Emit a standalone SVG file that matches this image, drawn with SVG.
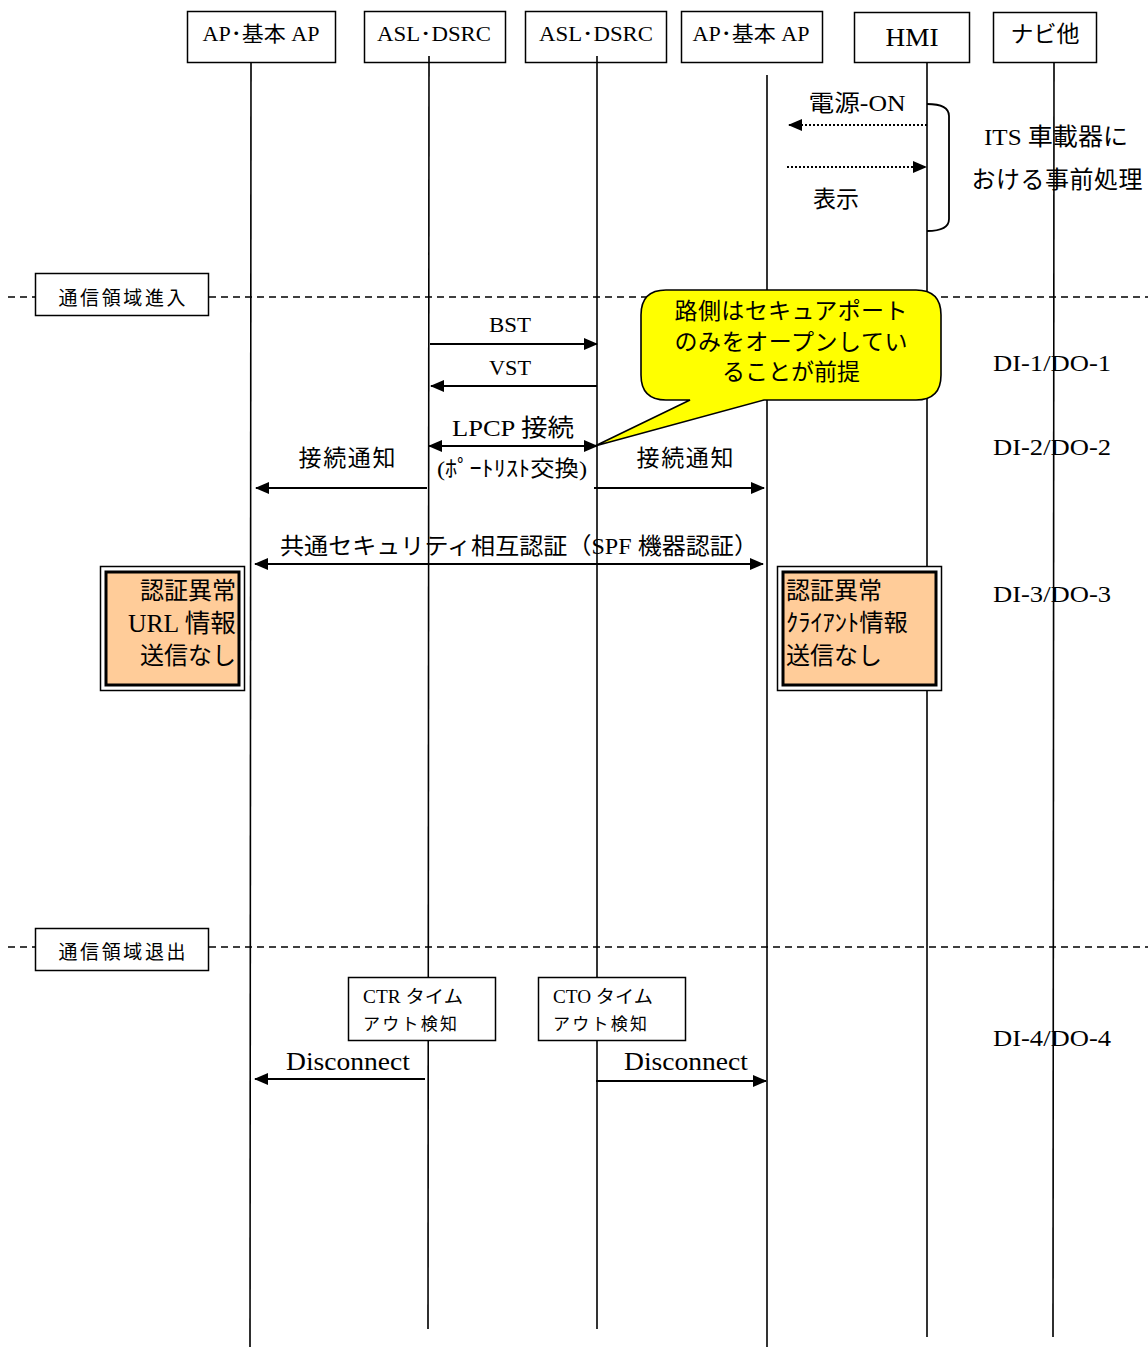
<svg xmlns="http://www.w3.org/2000/svg" width="1148" height="1347" viewBox="0 0 1148 1347">
<style>
text{font-family:"Liberation Serif","Noto Sans CJK JP",serif;fill:#000;dominant-baseline:central}
.hd{fill:#fff;stroke:#000;stroke-width:1.5}
.life{stroke:#000;stroke-width:1.6;fill:none}
.msg{stroke:#000;stroke-width:2.2;fill:none}
.dot{stroke:#000;stroke-width:2;stroke-dasharray:2,2;fill:none}
.sep{stroke:#000;stroke-width:1.4;stroke-dasharray:7,5;fill:none}
.box{fill:#fff;stroke:#000;stroke-width:1.5}
.mid{text-anchor:middle}
</style>
<defs>
<marker id="ah" viewBox="0 0 14 12" refX="13" refY="6" markerWidth="14" markerHeight="12" markerUnits="userSpaceOnUse" orient="auto-start-reverse">
<path d="M0,0 L14,6 L0,12 z" fill="#000"/>
</marker>
</defs>

<!-- separators -->
<g id="separators">
<line class="sep" x1="8" y1="297" x2="35" y2="297"/>
<line class="sep" x1="209" y1="297" x2="1148" y2="297"/>
<line class="sep" x1="8" y1="947" x2="35" y2="947"/>
<line class="sep" x1="209" y1="947" x2="1148" y2="947"/>
</g>

<!-- participants -->
<g id="p1">
<rect class="hd" x="187.5" y="11.5" width="148" height="51"/>
<text class="mid" x="261" y="34" font-size="21" textLength="117" lengthAdjust="spacingAndGlyphs">AP･基本 AP</text>
<line class="life" x1="251" y1="62" x2="250" y2="1347"/>
</g>
<g id="p2">
<rect class="hd" x="364.5" y="11.5" width="141" height="51"/>
<text class="mid" x="434" y="34" font-size="20" textLength="114" lengthAdjust="spacingAndGlyphs">ASL･DSRC</text>
<line class="life" x1="429" y1="56" x2="428" y2="1329"/>
</g>
<g id="p3">
<rect class="hd" x="525.5" y="11.5" width="141" height="51"/>
<text class="mid" x="596" y="34" font-size="20" textLength="114" lengthAdjust="spacingAndGlyphs">ASL･DSRC</text>
<line class="life" x1="597" y1="56" x2="597" y2="1329"/>
</g>
<g id="p4">
<rect class="hd" x="681.5" y="11.5" width="141" height="51"/>
<text class="mid" x="751" y="34" font-size="21" textLength="117" lengthAdjust="spacingAndGlyphs">AP･基本 AP</text>
<line class="life" x1="767" y1="75" x2="767" y2="1347"/>
</g>
<g id="p5">
<rect class="hd" x="854.5" y="12.5" width="115" height="50"/>
<text class="mid" x="912" y="37" font-size="25" textLength="53" lengthAdjust="spacingAndGlyphs">HMI</text>
<line class="life" x1="927" y1="62" x2="927" y2="1337"/>
</g>
<g id="p6">
<rect class="hd" x="993.5" y="12.5" width="103" height="50"/>
<text class="mid" x="1045" y="34" font-size="23">ナビ他</text>
<line class="life" x1="1054" y1="62" x2="1053" y2="1337"/>
</g>

<!-- connectors -->
<g id="connectors">
<line class="dot" x1="927" y1="125" x2="789" y2="125" marker-end="url(#ah)"/>
<line class="dot" x1="787" y1="167" x2="926" y2="167" marker-end="url(#ah)"/>
<line class="msg" x1="430" y1="344" x2="597" y2="344" marker-end="url(#ah)"/>
<line class="msg" x1="597" y1="386" x2="431" y2="386" marker-end="url(#ah)"/>
<line class="msg" x1="429" y1="446" x2="597" y2="446" marker-start="url(#ah)" marker-end="url(#ah)"/>
<line class="msg" x1="427" y1="488" x2="256" y2="488" marker-end="url(#ah)"/>
<line class="msg" x1="594" y1="488" x2="764" y2="488" marker-end="url(#ah)"/>
<line class="msg" x1="255" y1="564" x2="763" y2="564" marker-start="url(#ah)" marker-end="url(#ah)"/>
<line class="msg" x1="425" y1="1079" x2="255" y2="1079" marker-end="url(#ah)"/>
<line class="msg" x1="596" y1="1081" x2="766" y2="1081" marker-end="url(#ah)"/>
</g>

<!-- message labels -->
<g id="labels">
<text x="857" y="103" class="mid" font-size="23" textLength="97" lengthAdjust="spacingAndGlyphs">電源-ON</text>
<text x="836" y="199" class="mid" font-size="23">表示</text>
<text x="510" y="325" class="mid" font-size="21" textLength="42" lengthAdjust="spacingAndGlyphs">BST</text>
<text x="510" y="368" class="mid" font-size="21" textLength="42" lengthAdjust="spacingAndGlyphs">VST</text>
<text x="513" y="428" class="mid" font-size="24" textLength="122" lengthAdjust="spacingAndGlyphs">LPCP 接続</text>
<text x="512" y="468" class="mid" font-size="22" textLength="150" lengthAdjust="spacingAndGlyphs">(ﾎﾟｰﾄﾘｽﾄ交換)</text>
<text x="347" y="458" class="mid" font-size="23" textLength="97" lengthAdjust="spacing">接続通知</text>
<text x="685" y="458" class="mid" font-size="23" textLength="97" lengthAdjust="spacing">接続通知</text>
<text x="280" y="546" font-size="23" textLength="478" lengthAdjust="spacingAndGlyphs">共通セキュリティ相互認証（SPF 機器認証）</text>
<text x="348" y="1061" class="mid" font-size="25" textLength="124" lengthAdjust="spacingAndGlyphs">Disconnect</text>
<text x="686" y="1061" class="mid" font-size="25" textLength="124" lengthAdjust="spacingAndGlyphs">Disconnect</text>
</g>

<!-- HMI preprocessing brace -->
<g id="preprocess">
<path d="M927,104 Q949,104 949,116 L949,219 Q949,231 927,231" fill="none" stroke="#000" stroke-width="1.8"/>
<text x="1056" y="137" class="mid" font-size="24" textLength="144" lengthAdjust="spacingAndGlyphs">ITS 車載器に</text>
<text x="1057" y="180" class="mid" font-size="24" textLength="171" lengthAdjust="spacing">おける事前処理</text>
</g>

<!-- section labels -->
<g id="enter">
<rect class="box" x="35.5" y="273.5" width="173" height="42"/>
<text x="122" y="298" class="mid" font-size="19" textLength="127" lengthAdjust="spacing">通信領域進入</text>
</g>
<g id="exit">
<rect class="box" x="35.5" y="928.5" width="173" height="42"/>
<text x="122" y="952" class="mid" font-size="19" textLength="127" lengthAdjust="spacing">通信領域退出</text>
</g>

<!-- callout -->
<g id="callout">
<path d="M666,290 L916,290 Q941,290 941,315 L941,375 Q941,400 916,400 L764,400 L595,446 L690,400 L666,400 Q641,400 641,375 L641,315 Q641,290 666,290 z" fill="#FFFF00" stroke="#000" stroke-width="1.6"/>
<text x="791" y="311" class="mid" font-size="23" textLength="233" lengthAdjust="spacing">路側はセキュアポート</text>
<text x="791" y="342" class="mid" font-size="23" textLength="233" lengthAdjust="spacing">のみをオープンしてい</text>
<text x="791" y="372" class="mid" font-size="23" textLength="138" lengthAdjust="spacing">ることが前提</text>
</g>

<!-- DI/DO labels -->
<g id="di1"><text x="993" y="363" font-size="24" textLength="118" lengthAdjust="spacingAndGlyphs">DI-1/DO-1</text></g>
<g id="di2"><text x="993" y="447" font-size="24" textLength="118" lengthAdjust="spacingAndGlyphs">DI-2/DO-2</text></g>
<g id="di3"><text x="993" y="594" font-size="24" textLength="118" lengthAdjust="spacingAndGlyphs">DI-3/DO-3</text></g>
<g id="di4"><text x="993" y="1038" font-size="24" textLength="118" lengthAdjust="spacingAndGlyphs">DI-4/DO-4</text></g>

<!-- auth error boxes -->
<g id="errLeft">
<rect x="100.5" y="566.5" width="144" height="124" fill="#fff" stroke="#000" stroke-width="1.5"/>
<rect x="106" y="572" width="133" height="113" fill="#FFCC99" stroke="#000" stroke-width="3"/>
<text x="236" y="591" font-size="24" text-anchor="end">認証異常</text>
<text x="236" y="623" font-size="25" text-anchor="end" textLength="108" lengthAdjust="spacingAndGlyphs">URL 情報</text>
<text x="236" y="656" font-size="24" text-anchor="end">送信なし</text>
</g>
<g id="errRight">
<rect x="777.5" y="566.5" width="164" height="124" fill="#fff" stroke="#000" stroke-width="1.5"/>
<rect x="783" y="572" width="153" height="113" fill="#FFCC99" stroke="#000" stroke-width="3"/>
<text x="786" y="591" font-size="24">認証異常</text>
<text x="786" y="623" font-size="24" textLength="122" lengthAdjust="spacingAndGlyphs">ｸﾗｲｱﾝﾄ情報</text>
<text x="786" y="656" font-size="24">送信なし</text>
</g>

<!-- timeout boxes -->
<g id="ctr">
<rect class="box" x="348.5" y="977.5" width="147" height="63"/>
<text x="363" y="997" font-size="18" textLength="100" lengthAdjust="spacingAndGlyphs">CTR タイム</text>
<text x="363" y="1024" font-size="17" textLength="94" lengthAdjust="spacing">アウト検知</text>
</g>
<g id="cto">
<rect class="box" x="538.5" y="977.5" width="147" height="63"/>
<text x="553" y="997" font-size="18" textLength="100" lengthAdjust="spacingAndGlyphs">CTO タイム</text>
<text x="553" y="1024" font-size="17" textLength="94" lengthAdjust="spacing">アウト検知</text>
</g>
</svg>
